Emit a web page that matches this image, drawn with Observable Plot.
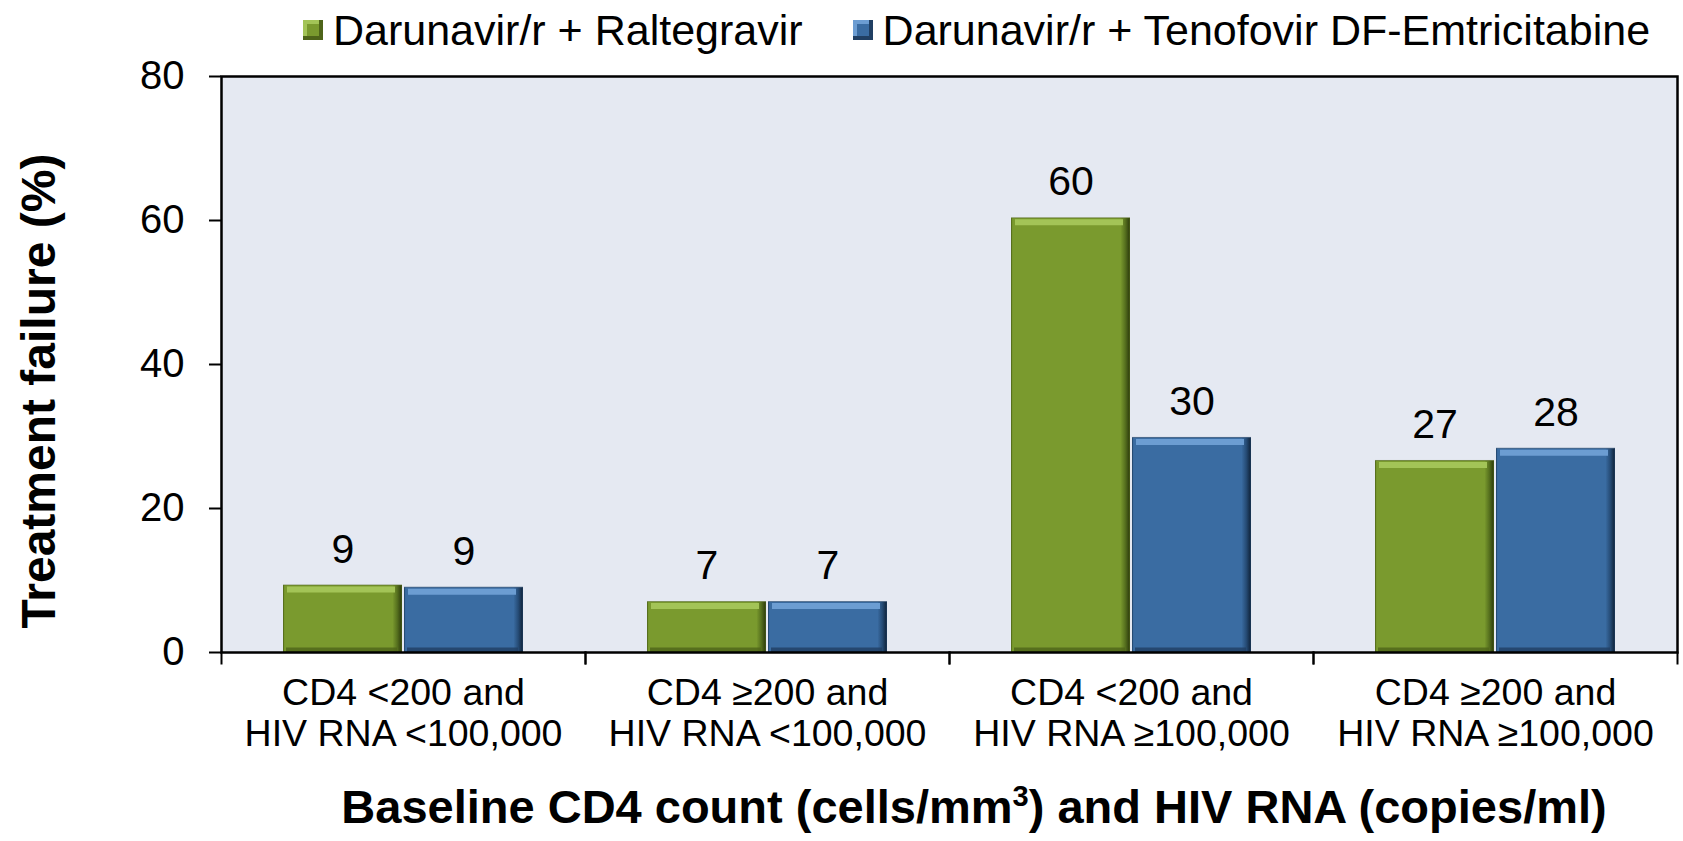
<!DOCTYPE html>
<html>
<head>
<meta charset="utf-8">
<script src="https://cdn.jsdelivr.net/npm/d3@7"></script>
<script src="https://cdn.jsdelivr.net/npm/@observablehq/plot@0.6"></script>
<style>
  html, body { margin: 0; padding: 0; background: #fff; }
  body { width: 1683px; height: 841px; position: relative; overflow: hidden;
         font-family: "Liberation Sans", Arial, sans-serif; color: #000; }
  #legend { height: 60px; display: flex; align-items: center; padding-left: 303px;
            font-size: 43px; white-space: nowrap; }
  .item { display: flex; align-items: center; margin-right: 50px; }
  .sw { width: 20px; height: 20px; margin-right: 10px; box-sizing: border-box; }
  #chart svg { display: block; }
  #ytitle { position: absolute; left: 38px; top: 391px; transform: translate(-50%, -50%) rotate(-90deg);
            font-weight: bold; font-size: 48px; white-space: nowrap; }
  #xtitle { position: absolute; left: 974px; top: 806px; transform: translate(-50%, -50%);
            font-weight: bold; font-size: 47px; white-space: nowrap; }
  #xtitle sup { font-size: 29px; vertical-align: 0; position: relative; top: -17px; }
</style>
</head>
<body>
<div id="legend"></div>
<div id="chart"></div>
<div id="ytitle"></div>
<div id="xtitle">Baseline CD4 count (cells/mm<sup>3</sup>) and HIV RNA (copies/ml)</div>
<script>
// ---- data ----
const categories = [
  "CD4 <200 and\nHIV RNA <100,000",
  "CD4 ≥200 and\nHIV RNA <100,000",
  "CD4 <200 and\nHIV RNA ≥100,000",
  "CD4 ≥200 and\nHIV RNA ≥100,000"
];
const series = ["Darunavir/r + Raltegravir", "Darunavir/r + Tenofovir DF-Emtricitabine"];
const raltegravir = [9.3, 7.0, 60.3, 26.6];
const tenofovirEmtricitabine = [9.0, 7.0, 29.8, 28.3];
const yTicks = [0, 20, 40, 60, 80];
const yTitle = "Treatment failure (%)";

// ---- styles ----
const mainColors = ["#7A9A2E", "#3A6CA2"];
const lightColors = ["#A3C457", "#6C9DD2"];
const darkColors = ["#4E6419", "#203F63"];
const plotBg = "#E5E9F2";

const data = categories.flatMap((c, i) => [
  {category: c, series: series[0], value: raltegravir[i]},
  {category: c, series: series[1], value: tenofovirEmtricitabine[i]}
]);

// legend
const legend = d3.select("#legend");
series.forEach((s, i) => {
  const it = legend.append("div").attr("class", "item");
  it.append("div").attr("class", "sw")
    .style("background", mainColors[i])
    .style("box-shadow", `inset -4px -4px 0 ${darkColors[i]}, inset 4px 4px 0 ${lightColors[i]}`);
  it.append("span").text(s);
});
d3.select("#ytitle").text(yTitle);

const bySeries = (k) => data.filter(d => d.series === series[k]);

const chart = Plot.plot({
  width: 1683,
  height: 710,
  marginTop: 16,
  marginBottom: 118,
  marginLeft: 220,
  marginRight: 6,
  style: {fontFamily: "Liberation Sans, Arial, sans-serif", color: "#000", background: "transparent", overflow: "visible"},
  fx: {domain: categories, padding: 0, label: null},
  x: {domain: series, paddingInner: 0, paddingOuter: 0.5, axis: null},
  y: {domain: [0, 80], label: null},
  color: {type: "ordinal", domain: series, range: ["url(#gradGreen)", "url(#gradBlue)"]},
  marks: [
    Plot.frame({fill: plotBg, stroke: plotBg, strokeWidth: 1.5}),
    Plot.barY(data, {fx: "category", x: "series", y: "value", fill: "series", insetLeft: 1, insetRight: 1}),
    ...[0, 1].map(k => Plot.tickY(bySeries(k), {fx: "category", x: "series", y: "value", stroke: lightColors[k], strokeWidth: 6, dy: 4, insetLeft: 5, insetRight: 8})),
    ...[0, 1].map(k => Plot.tickY(bySeries(k), {fx: "category", x: "series", y: 0, stroke: darkColors[k], strokeWidth: 5, dy: -2.5, insetLeft: 4, insetRight: 6, strokeOpacity: 0.8})),
    ...[0, 1].map(k => Plot.barY(bySeries(k), {fx: "category", x: "series", y: "value", fill: "none", stroke: darkColors[k], strokeWidth: 1, strokeOpacity: 0.6, insetLeft: 1.5, insetRight: 1.5})),
    Plot.text(data, {fx: "category", x: "series", y: "value", text: d => d3.format(".0f")(d.value), dy: -23, lineAnchor: "bottom", fontSize: 41, fill: "#000"}),
    Plot.axisY({ticks: yTicks, tickSize: 12, tickPadding: 25, fontSize: 40, strokeWidth: 2, label: null}),
    Plot.axisFx({anchor: "bottom", tickSize: 0, tickPadding: 23, fontSize: 37.5, lineHeight: 1.1, label: null}),
    Plot.frame({anchor: "left", stroke: "#000", strokeWidth: 2, insetTop: 576, insetBottom: -11}),
    Plot.frame({anchor: "right", stroke: "#000", strokeWidth: 2, insetTop: 576, insetBottom: -11}),
    Plot.frame({facet: "super", stroke: "#000", strokeWidth: 2.5})
  ]
});

// gradient definitions for the bevelled bar fill
const defs = d3.select(chart).insert("defs", ":first-child");
const grads = [
  {id: "gradGreen", stops: [[0, "#5E7A20"], [0.015, mainColors[0]], [0.92, mainColors[0]], [0.96, "#56701E"], [1, "#2A370B"]]},
  {id: "gradBlue", stops: [[0, "#2C5886"], [0.015, mainColors[1]], [0.92, mainColors[1]], [0.96, "#264C76"], [1, "#0E2036"]]}
];
grads.forEach(g => {
  const lg = defs.append("linearGradient").attr("id", g.id).attr("x1", 0).attr("x2", 1).attr("y1", 0).attr("y2", 0);
  g.stops.forEach(([o, c]) => lg.append("stop").attr("offset", o).attr("stop-color", c));
});

document.getElementById("chart").appendChild(chart);
</script>
</body>
</html>
